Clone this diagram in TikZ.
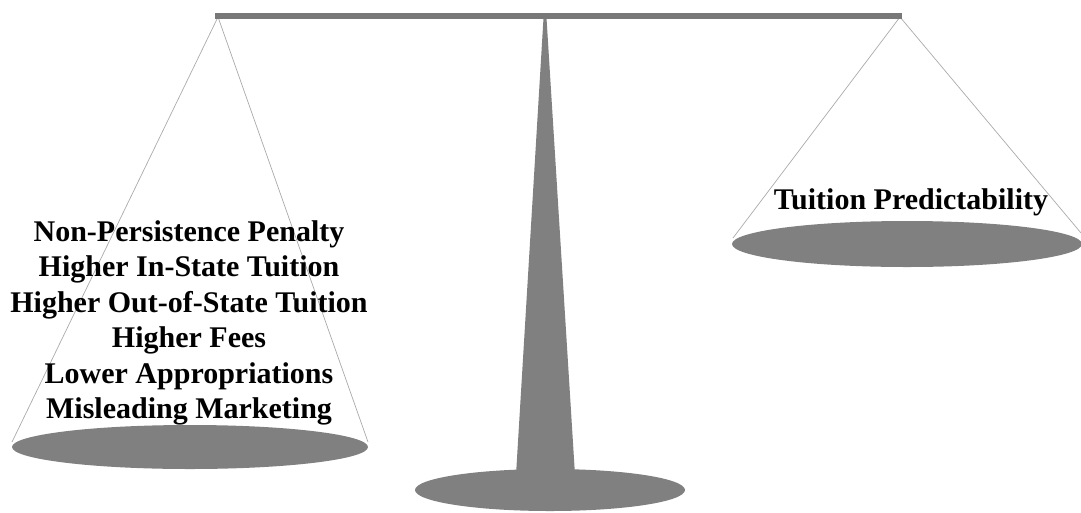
\documentclass[tikz,border=0pt]{standalone}
\usepackage{fontspec}
\setmainfont{Liberation Serif}
\begin{document}
\begin{tikzpicture}[x=1pt,y=-1pt,
  metal/.style={fill=panGray,draw=none},
  cord/.style={draw=cordGray,line width=0.7pt},
  lbl/.style={align=center,font=\fontsize{30}{35.5}\selectfont\bfseries,text=black,inner sep=0pt}]
\definecolor{panGray}{RGB}{128,128,128}
\definecolor{beamGray}{RGB}{120,120,120}
\definecolor{cordGray}{RGB}{170,170,170}
\useasboundingbox (0,0) rectangle (1081,512);
% hook points
\coordinate (hl) at (218,17);
\coordinate (hr) at (900,17);
\coordinate (ll) at (12,442);
\coordinate (lr) at (368,442);
\coordinate (rl) at (733,238);
\coordinate (rr) at (1081,233);
% strings
\draw[cord] (hl) -- (ll);
\draw[cord] (hl) -- (lr);
\draw[cord] (hr) -- (rl);
\draw[cord] (hr) -- (rr);
% pans
\fill[metal] (190,447) ellipse [x radius=178, y radius=22];
\fill[metal] (907,244) ellipse [x radius=175, y radius=23];
% pillar
\fill[metal] (543.5,18) -- (546.5,18) -- (575,475) -- (516,475) -- cycle;
\fill[metal] (550,490) ellipse [x radius=135, y radius=21];
% beam
\fill[beamGray] (215,13) rectangle (902,18.5);
% labels
\node[lbl] (left) at (189,323) {Non-Persistence Penalty\\Higher In-State Tuition\\Higher Out-of-State Tuition\\Higher Fees\\Lower Appropriations\\Misleading Marketing};
\node[lbl] (right) at (911,202) {Tuition Predictability};
\end{tikzpicture}
\end{document}
